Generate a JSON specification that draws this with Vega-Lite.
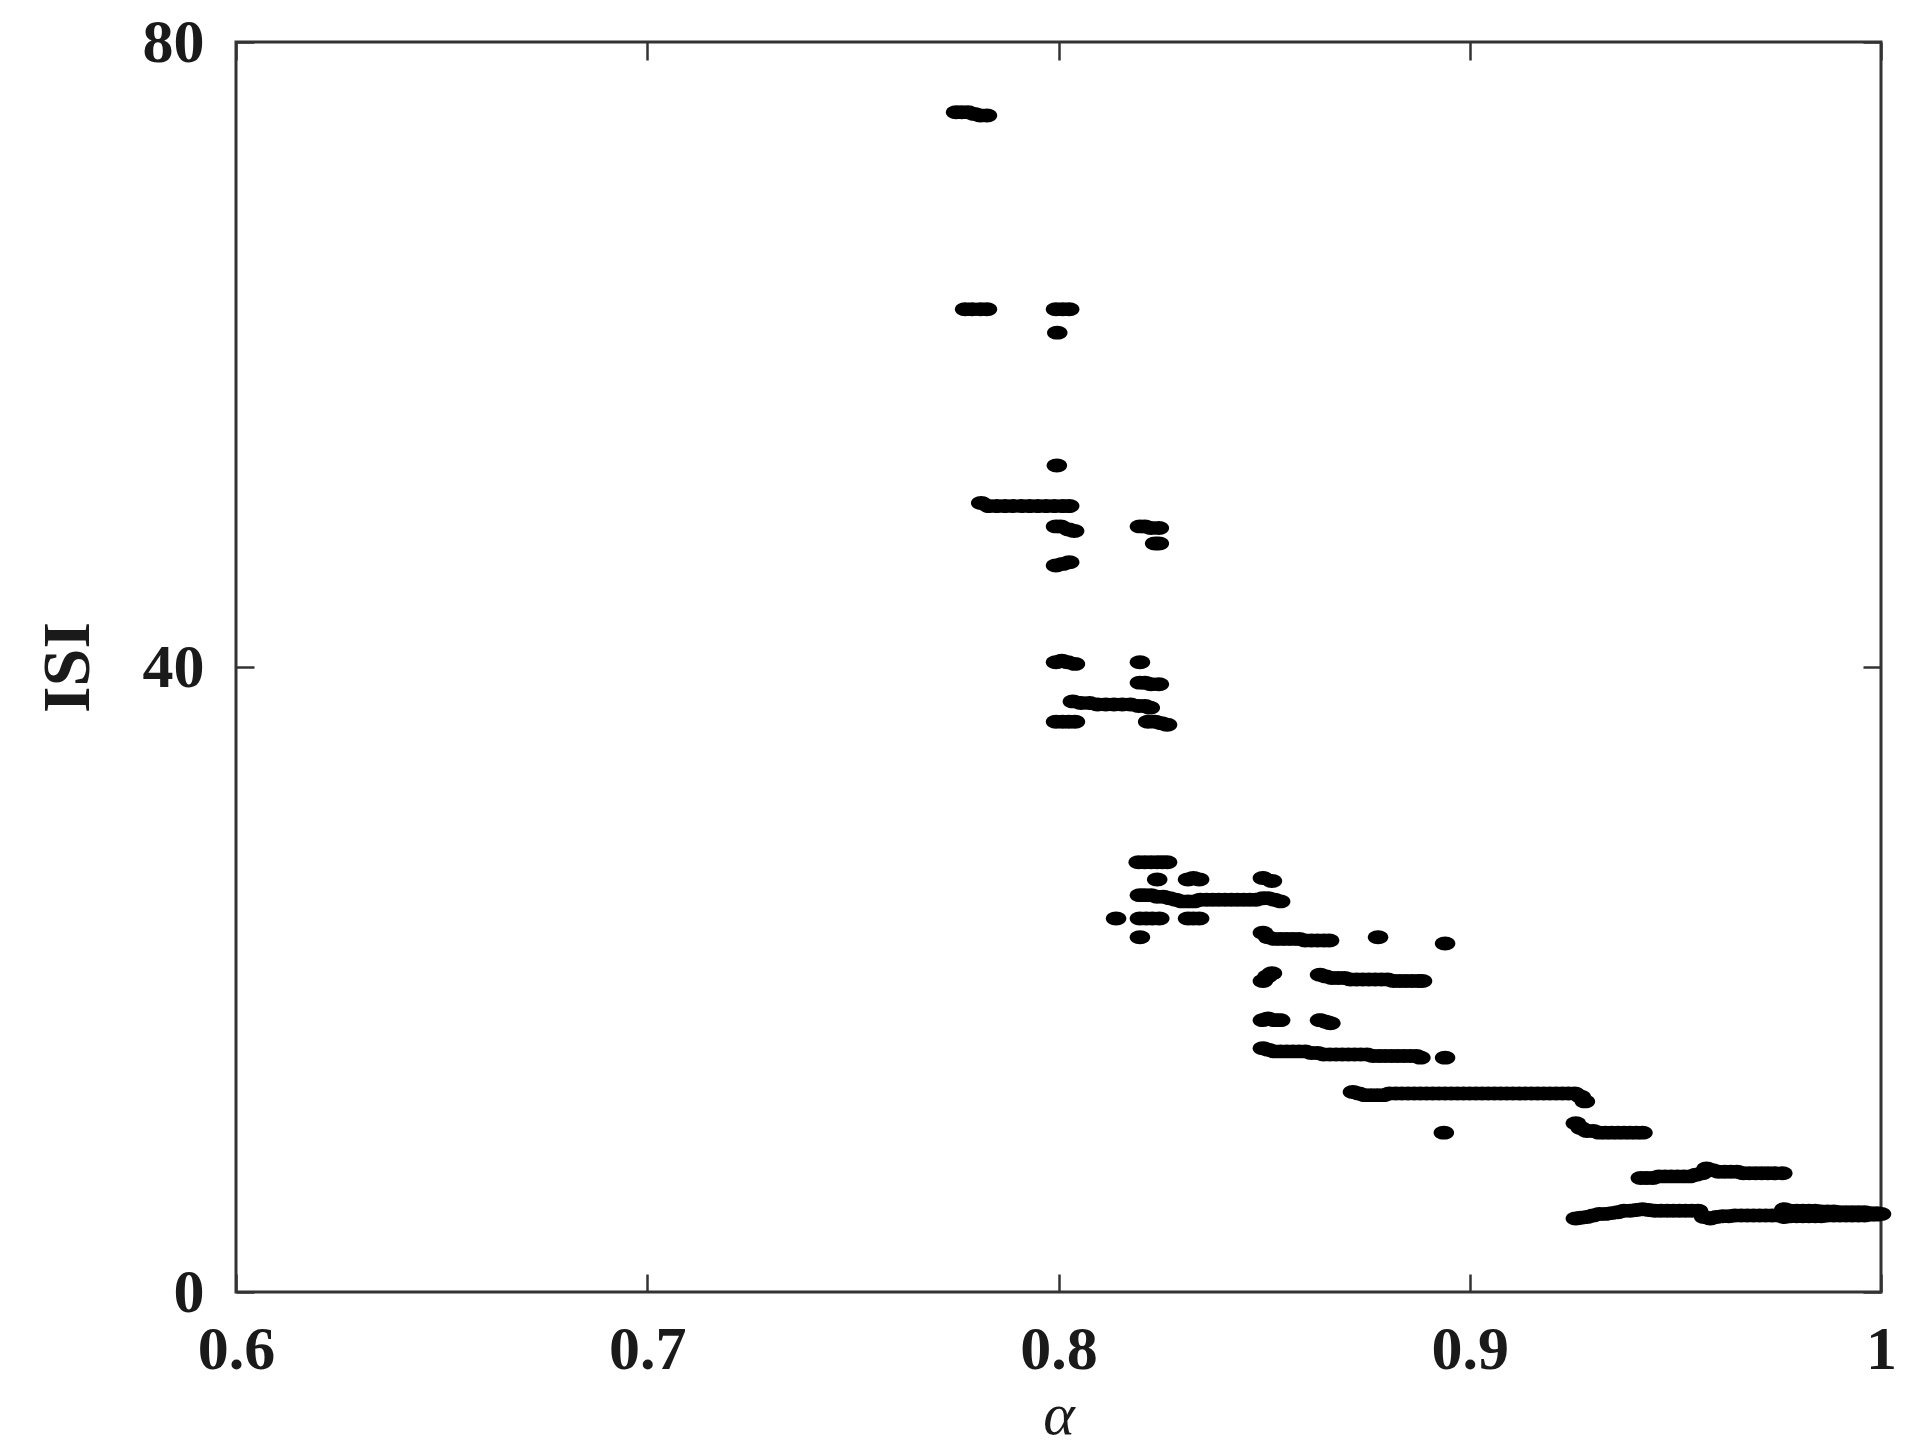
{
 "$schema": "https://vega.github.io/schema/vega-lite/v6.json",
 "width": 1645, "height": 1250,
 "autosize": {"type": "none"},
 "padding": {"left": 236, "top": 42, "right": 38, "bottom": 154},
 "background": "white",
 "config": {
  "view": {"stroke": "#333333", "strokeWidth": 3},
  "axis": {"grid": false, "domain": false, "labelFont": "Liberation Serif", "labelFontWeight": "bold", "labelFontSize": 62, "labelColor": "#1a1a1a", "tickColor": "#333333", "tickWidth": 2.5, "tickSize": -18, "labelFlush": false, "labelOverlap": false}
 },
 "data": {"values": [
  {"a":0.7751,"isi":75.5},{"a":0.7765,"isi":75.5},{"a":0.778,"isi":75.5},{"a":0.7795,"isi":75.4},{"a":0.781,"isi":75.3},{"a":0.7826,"isi":75.3},
  {"a":0.7773,"isi":62.9},{"a":0.779,"isi":62.9},{"a":0.781,"isi":62.9},{"a":0.7826,"isi":62.9},
  {"a":0.7994,"isi":62.9},{"a":0.801,"isi":62.9},{"a":0.8026,"isi":62.9},
  {"a":0.7997,"isi":61.4},
  {"a":0.7996,"isi":52.9},
  {"a":0.7812,"isi":50.5},{"a":0.783,"isi":50.3},{"a":0.785,"isi":50.3},{"a":0.787,"isi":50.3},{"a":0.789,"isi":50.3},{"a":0.791,"isi":50.3},{"a":0.793,"isi":50.3},{"a":0.795,"isi":50.3},{"a":0.797,"isi":50.3},{"a":0.799,"isi":50.3},{"a":0.801,"isi":50.3},{"a":0.8026,"isi":50.3},
  {"a":0.7994,"isi":49.0},{"a":0.8005,"isi":49.0},{"a":0.8025,"isi":48.8},{"a":0.8038,"isi":48.7},
  {"a":0.8198,"isi":49.0},{"a":0.821,"isi":49.0},{"a":0.8225,"isi":48.9},{"a":0.8244,"isi":48.9},
  {"a":0.8235,"isi":47.9},{"a":0.8244,"isi":47.9},
  {"a":0.7994,"isi":46.5},{"a":0.801,"isi":46.6},{"a":0.8026,"isi":46.7},
  {"a":0.7994,"isi":40.3},{"a":0.8008,"isi":40.4},{"a":0.8022,"isi":40.3},{"a":0.804,"isi":40.2},
  {"a":0.8198,"isi":40.3},
  {"a":0.8198,"isi":39.0},{"a":0.821,"isi":39.0},{"a":0.8225,"isi":38.9},{"a":0.8244,"isi":38.9},
  {"a":0.8035,"isi":37.8},{"a":0.8055,"isi":37.7},{"a":0.8075,"isi":37.7},{"a":0.8095,"isi":37.6},{"a":0.8115,"isi":37.6},{"a":0.8135,"isi":37.6},{"a":0.8155,"isi":37.6},{"a":0.8175,"isi":37.6},{"a":0.8195,"isi":37.5},{"a":0.821,"isi":37.5},{"a":0.8222,"isi":37.4},
  {"a":0.7994,"isi":36.5},{"a":0.801,"isi":36.5},{"a":0.8025,"isi":36.5},{"a":0.804,"isi":36.5},
  {"a":0.8218,"isi":36.5},{"a":0.8235,"isi":36.5},{"a":0.825,"isi":36.4},{"a":0.8264,"isi":36.3},
  {"a":0.8195,"isi":27.5},{"a":0.821,"isi":27.5},{"a":0.8225,"isi":27.5},{"a":0.824,"isi":27.5},{"a":0.8252,"isi":27.5},{"a":0.8264,"isi":27.5},
  {"a":0.824,"isi":26.4},{"a":0.8315,"isi":26.4},{"a":0.8328,"isi":26.5},{"a":0.8342,"isi":26.4},{"a":0.8497,"isi":26.5},{"a":0.8519,"isi":26.3},
  {"a":0.8198,"isi":25.4},{"a":0.821,"isi":25.4},{"a":0.8225,"isi":25.4},{"a":0.824,"isi":25.3},{"a":0.8255,"isi":25.3},{"a":0.827,"isi":25.2},{"a":0.8285,"isi":25.1},{"a":0.83,"isi":25.0},{"a":0.8315,"isi":25.0},{"a":0.833,"isi":25.0},{"a":0.8345,"isi":25.1},{"a":0.836,"isi":25.1},{"a":0.8375,"isi":25.1},{"a":0.839,"isi":25.1},{"a":0.8405,"isi":25.1},{"a":0.842,"isi":25.1},{"a":0.8435,"isi":25.1},{"a":0.845,"isi":25.1},{"a":0.8465,"isi":25.1},{"a":0.848,"isi":25.1},{"a":0.8497,"isi":25.2},{"a":0.851,"isi":25.2},{"a":0.8525,"isi":25.1},{"a":0.8539,"isi":25.0},
  {"a":0.814,"isi":23.9},{"a":0.8198,"isi":23.9},{"a":0.8213,"isi":23.9},{"a":0.8228,"isi":23.9},{"a":0.8245,"isi":23.9},{"a":0.8315,"isi":23.9},{"a":0.8328,"isi":23.9},{"a":0.8342,"isi":23.9},
  {"a":0.8198,"isi":22.7},
  {"a":0.8497,"isi":23.0},{"a":0.851,"isi":22.7},{"a":0.8525,"isi":22.6},{"a":0.854,"isi":22.6},{"a":0.8555,"isi":22.6},{"a":0.857,"isi":22.6},{"a":0.8585,"isi":22.6},{"a":0.86,"isi":22.5},{"a":0.8615,"isi":22.5},{"a":0.863,"isi":22.5},{"a":0.8645,"isi":22.5},{"a":0.8658,"isi":22.5},
  {"a":0.8777,"isi":22.7},{"a":0.894,"isi":22.3},
  {"a":0.8497,"isi":19.9},{"a":0.8508,"isi":20.2},{"a":0.8519,"isi":20.4},
  {"a":0.8636,"isi":20.3},{"a":0.865,"isi":20.2},{"a":0.8665,"isi":20.1},{"a":0.868,"isi":20.1},{"a":0.8695,"isi":20.1},{"a":0.871,"isi":20.0},{"a":0.8725,"isi":20.0},{"a":0.874,"isi":20.0},{"a":0.8755,"isi":20.0},{"a":0.877,"isi":20.0},{"a":0.8785,"isi":20.0},{"a":0.88,"isi":20.0},{"a":0.8815,"isi":19.9},{"a":0.883,"isi":19.9},{"a":0.8845,"isi":19.9},{"a":0.886,"isi":19.9},{"a":0.8875,"isi":19.9},{"a":0.8884,"isi":19.9},
  {"a":0.8497,"isi":17.4},{"a":0.851,"isi":17.5},{"a":0.8525,"isi":17.4},{"a":0.8539,"isi":17.4},{"a":0.8636,"isi":17.4},{"a":0.865,"isi":17.3},{"a":0.8661,"isi":17.2},
  {"a":0.8497,"isi":15.6},{"a":0.851,"isi":15.5},{"a":0.8525,"isi":15.4},{"a":0.854,"isi":15.4},{"a":0.8555,"isi":15.4},{"a":0.857,"isi":15.4},{"a":0.8585,"isi":15.4},{"a":0.86,"isi":15.4},{"a":0.8615,"isi":15.3},{"a":0.863,"isi":15.3},{"a":0.8645,"isi":15.2},{"a":0.866,"isi":15.2},{"a":0.8675,"isi":15.2},{"a":0.869,"isi":15.2},{"a":0.8705,"isi":15.2},{"a":0.872,"isi":15.2},{"a":0.8735,"isi":15.2},{"a":0.875,"isi":15.2},{"a":0.8765,"isi":15.1},{"a":0.878,"isi":15.1},{"a":0.8795,"isi":15.1},{"a":0.881,"isi":15.1},{"a":0.8825,"isi":15.1},{"a":0.884,"isi":15.1},{"a":0.8855,"isi":15.1},{"a":0.887,"isi":15.1},{"a":0.888,"isi":15.0},
  {"a":0.894,"isi":15.0},
  {"a":0.8716,"isi":12.8},{"a":0.873,"isi":12.7},{"a":0.8745,"isi":12.6},{"a":0.876,"isi":12.6},{"a":0.8775,"isi":12.6},{"a":0.879,"isi":12.6},{"a":0.8805,"isi":12.7},{"a":0.882,"isi":12.7},{"a":0.8835,"isi":12.7},{"a":0.885,"isi":12.7},{"a":0.8865,"isi":12.7},{"a":0.888,"isi":12.7},{"a":0.8895,"isi":12.7},{"a":0.891,"isi":12.7},{"a":0.8925,"isi":12.7},{"a":0.894,"isi":12.7},{"a":0.8955,"isi":12.7},{"a":0.897,"isi":12.7},{"a":0.8985,"isi":12.7},{"a":0.9,"isi":12.7},{"a":0.9015,"isi":12.7},{"a":0.903,"isi":12.7},{"a":0.9045,"isi":12.7},{"a":0.906,"isi":12.7},{"a":0.9075,"isi":12.7},{"a":0.909,"isi":12.7},{"a":0.9105,"isi":12.7},{"a":0.912,"isi":12.7},{"a":0.9135,"isi":12.7},{"a":0.915,"isi":12.7},{"a":0.9165,"isi":12.7},{"a":0.918,"isi":12.7},{"a":0.9195,"isi":12.7},{"a":0.921,"isi":12.7},{"a":0.9225,"isi":12.7},{"a":0.924,"isi":12.7},{"a":0.9255,"isi":12.7},{"a":0.927,"isi":12.5},{"a":0.928,"isi":12.2},
  {"a":0.8937,"isi":10.2},
  {"a":0.9258,"isi":10.8},{"a":0.927,"isi":10.5},{"a":0.9285,"isi":10.3},{"a":0.93,"isi":10.3},{"a":0.9315,"isi":10.2},{"a":0.933,"isi":10.2},{"a":0.9345,"isi":10.2},{"a":0.936,"isi":10.2},{"a":0.9375,"isi":10.2},{"a":0.939,"isi":10.2},{"a":0.9405,"isi":10.2},{"a":0.942,"isi":10.2},
  {"a":0.9416,"isi":7.3},{"a":0.943,"isi":7.3},{"a":0.9445,"isi":7.3},{"a":0.946,"isi":7.4},{"a":0.9475,"isi":7.4},{"a":0.949,"isi":7.4},{"a":0.9505,"isi":7.4},{"a":0.952,"isi":7.4},{"a":0.9535,"isi":7.4},{"a":0.955,"isi":7.5},{"a":0.9565,"isi":7.6},{"a":0.9576,"isi":7.9},{"a":0.959,"isi":7.8},{"a":0.9605,"isi":7.7},{"a":0.962,"isi":7.7},{"a":0.9635,"isi":7.7},{"a":0.965,"isi":7.7},{"a":0.9665,"isi":7.6},{"a":0.968,"isi":7.6},{"a":0.9695,"isi":7.6},{"a":0.971,"isi":7.6},{"a":0.9725,"isi":7.6},{"a":0.974,"isi":7.6},{"a":0.976,"isi":7.6},
  {"a":0.9258,"isi":4.7},{"a":0.927,"isi":4.75},{"a":0.9285,"isi":4.8},{"a":0.93,"isi":4.9},{"a":0.9315,"isi":5.0},{"a":0.933,"isi":5.0},{"a":0.9345,"isi":5.05},{"a":0.936,"isi":5.1},{"a":0.9375,"isi":5.2},{"a":0.939,"isi":5.2},{"a":0.9405,"isi":5.25},{"a":0.942,"isi":5.3},{"a":0.9435,"isi":5.25},{"a":0.945,"isi":5.2},{"a":0.9465,"isi":5.2},{"a":0.948,"isi":5.2},{"a":0.9495,"isi":5.2},{"a":0.951,"isi":5.2},{"a":0.9525,"isi":5.2},{"a":0.954,"isi":5.2},{"a":0.9555,"isi":5.2},{"a":0.957,"isi":4.8},{"a":0.9585,"isi":4.7},{"a":0.96,"isi":4.8},{"a":0.9615,"isi":4.85},{"a":0.963,"isi":4.85},{"a":0.9645,"isi":4.9},{"a":0.966,"isi":4.9},{"a":0.9675,"isi":4.9},{"a":0.969,"isi":4.9},{"a":0.9705,"isi":4.9},{"a":0.972,"isi":4.9},{"a":0.9735,"isi":4.9},{"a":0.975,"isi":4.9},
  {"a":0.9765,"isi":5.3},{"a":0.978,"isi":5.2},{"a":0.9795,"isi":5.2},{"a":0.981,"isi":5.2},{"a":0.9825,"isi":5.2},{"a":0.984,"isi":5.2},{"a":0.9855,"isi":5.15},{"a":0.987,"isi":5.15},{"a":0.9885,"isi":5.15},{"a":0.99,"isi":5.1},{"a":0.9915,"isi":5.1},{"a":0.993,"isi":5.1},{"a":0.9945,"isi":5.1},{"a":0.996,"isi":5.1},{"a":0.9975,"isi":5.05},{"a":0.999,"isi":5.05},{"a":1.0,"isi":5.0},
  {"a":0.9765,"isi":4.8},{"a":0.978,"isi":4.85},{"a":0.9795,"isi":4.85},{"a":0.981,"isi":4.85},{"a":0.9825,"isi":4.85},{"a":0.984,"isi":4.85},{"a":0.9855,"isi":4.85},{"a":0.987,"isi":4.9},{"a":0.9885,"isi":4.9},{"a":0.99,"isi":4.9},{"a":0.9915,"isi":4.9},{"a":0.993,"isi":4.9},{"a":0.9945,"isi":4.9},{"a":0.996,"isi":4.9},{"a":0.9975,"isi":4.95},{"a":0.999,"isi":4.95}
 ]},
 "layer": [
  {
   "mark": {"type": "point", "filled": true, "color": "black", "size": 420, "opacity": 1, "strokeWidth": 0, "clip": false,
     "shape": "M-1,0 A1,0.68 0 1,0 1,0 A1,0.68 0 1,0 -1,0 Z"},
   "encoding": {
    "x": {"field": "a", "type": "quantitative", "scale": {"domain": [0.6, 1], "nice": false, "zero": false},
      "axis": {"orient": "bottom", "values": [0.6, 0.7, 0.8, 0.9, 1], "format": "~g", "labelPadding": 45,
        "title": "α", "titleFont": "Liberation Serif", "titleFontStyle": "italic", "titleFontWeight": "normal", "titleFontSize": 60, "titleColor": "#1a1a1a", "titleY": 141, "titleBaseline": "alphabetic"}},
    "y": {"field": "isi", "type": "quantitative", "scale": {"domain": [0, 80], "nice": false, "zero": true},
      "axis": {"orient": "left", "values": [0, 40, 80], "labelPadding": 50,
        "title": "ISI", "titleFont": "Liberation Serif", "titleFontWeight": "bold", "titleFontSize": 68, "titleColor": "#1a1a1a", "titleX": -148, "titleBaseline": "alphabetic", "titleAngle": -90}}
   }
  },
  {
   "mark": {"type": "circle", "opacity": 0},
   "encoding": {
    "x": {"field": "a", "type": "quantitative", "scale": {"domain": [0.6, 1], "nice": false, "zero": false},
      "axis": {"orient": "top", "values": [0.6, 0.7, 0.8, 0.9, 1], "labels": false, "title": null}},
    "y": {"field": "isi", "type": "quantitative", "scale": {"domain": [0, 80], "nice": false, "zero": true},
      "axis": {"orient": "right", "values": [0, 40, 80], "labels": false, "title": null}}
   }
  }
 ],
 "resolve": {"axis": {"x": "independent", "y": "independent"}}
}
